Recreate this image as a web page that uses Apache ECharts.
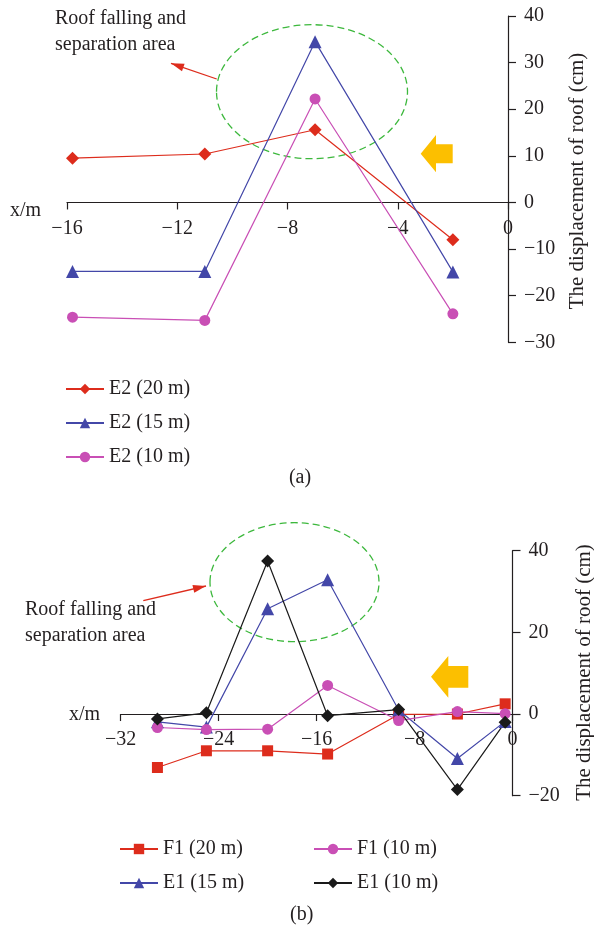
<!DOCTYPE html>
<html>
<head>
<meta charset="utf-8">
<script src="https://cdn.jsdelivr.net/npm/echarts@6/dist/echarts.min.js"></script>
<style>
html,body{margin:0;padding:0;background:#fff;}
#main{width:594px;height:926px;}
</style>
</head>
<body>
<div id="main"></div>
<script>
// ---- data (a) ----
const xTop = [-15.8, -11, -7, -2];
const e2_20 = [9.5, 10.4, 15.6, -8.0];
const e2_15 = [-14.8, -14.8, 34.5, -14.9];
const e2_10 = [-24.6, -25.3, 22.2, -23.9];
const topNames = ['E2 (20 m)', 'E2 (15 m)', 'E2 (10 m)'];
const topXTicks = [-16, -12, -8, -4, 0];
const topYTicks = [-30, -20, -10, 0, 10, 20, 30, 40];

// ---- data (b) ----
const xBot = [-29, -25, -20, -15.1, -9.3, -4.5, -0.6];
const f1_20 = [-13.1, -9.0, -9.0, -9.8, -0.1, 0.0, 2.5];
const e1_15 = [-1.9, -3.2, 25.8, 32.9, 1.0, -10.9, -1.8];
const f1_10 = [-3.3, -3.8, -3.7, 7.0, -1.6, 0.6, 0.1];
const e1_10 = [-1.2, 0.3, 37.5, -0.4, 1.1, -18.5, -2.0];
const botNames = ['F1 (20 m)', 'E1 (15 m)', 'F1 (10 m)', 'E1 (10 m)'];
const botXTicks = [-32, -24, -16, -8, 0];
const botYTicks = [-20, 0, 20, 40];

const yName = 'The displacement of roof (cm)';

const FONT = "'Liberation Serif', 'Times New Roman', serif";
const TXT = '#231F20';
const RED = '#DD2C1C', BLUE = '#4347A8', MAG = '#C94FB5', BLK = '#1A1A1A';
const GREEN = '#3DB83D', YEL = '#FCBF00';

const pair = (xs, ys) => xs.map((x, i) => [x, ys[i]]);
const minus = v => String(v).replace('-', '\u2212');

const grids = [
  {left: 67, top: 16, width: 441, height: 326.3},
  {left: 120.7, top: 550.7, width: 391.8, height: 245}
];
const yTickSets = [topYTicks, botYTicks];
// distance (px) from grid bottom up to the y = 0 line, through the y scale
function zeroOffset(gi) {
  const t = yTickSets[gi], g = grids[gi];
  const lo = t[0], hi = t[t.length - 1];
  return -((0 - lo) / (hi - lo)) * g.height;
}

function mkSeries(name, data, color, symbol, gi, size) {
  return {
    name, type: 'line', data, xAxisIndex: gi, yAxisIndex: gi,
    symbol, symbolSize: size, showSymbol: true,
    lineStyle: {color, width: 1.2},
    itemStyle: {color},
    emphasis: {disabled: true},
    animation: false
  };
}

function xAx(gi, ticks) {
  return {
    gridIndex: gi, type: 'value', position: 'bottom', offset: zeroOffset(gi),
    min: ticks[0], max: ticks[ticks.length - 1], interval: ticks[1] - ticks[0],
    axisLine: {onZero: false, lineStyle: {color: TXT, width: 1.2}},
    axisTick: {show: true, length: 7, lineStyle: {color: TXT, width: 1.2}},
    axisLabel: {margin: 16, color: TXT, fontFamily: FONT, fontSize: 20, formatter: minus},
    splitLine: {show: false}
  };
}
function yAx(gi, ticks) {
  return {
    gridIndex: gi, type: 'value', position: 'right',
    min: ticks[0], max: ticks[ticks.length - 1], interval: ticks[1] - ticks[0],
    axisLine: {show: true, onZero: false, lineStyle: {color: TXT, width: 1.2}},
    axisTick: {show: true, length: 8, lineStyle: {color: TXT, width: 1.2}},
    axisLabel: {margin: 16, color: TXT, fontFamily: FONT, fontSize: 20, formatter: minus},
    splitLine: {show: false}
  };
}

function legendOf(names, left, top) {
  return {
    data: names, orient: 'vertical', left, top,
    itemWidth: 38, itemHeight: 13, itemGap: 14,
    textStyle: {fontFamily: FONT, fontSize: 20, color: TXT},
    selectedMode: false
  };
}

function arrowHead(x1, y1, x2, y2, len, wid) {
  const a = Math.atan2(y2 - y1, x2 - x1);
  const bx = x2 - len * Math.cos(a), by = y2 - len * Math.sin(a);
  const px = -Math.sin(a) * wid / 2, py = Math.cos(a) * wid / 2;
  return [[x2, y2], [bx + px, by + py], [bx - px, by - py]];
}

function redArrow(x1, y1, x2, y2) {
  return [
    {type: 'line', shape: {x1, y1, x2, y2}, style: {stroke: RED, lineWidth: 1.3}, silent: true},
    {type: 'polygon', shape: {points: arrowHead(x1, y1, x2, y2, 13, 8)}, style: {fill: RED}, silent: true}
  ];
}
function yellowArrow(xl, yt, xr, yb, headX, shT, shB) {
  const ym = (yt + yb) / 2;
  return {type: 'polygon', silent: true,
    shape: {points: [[xl, ym], [headX, yt], [headX, shT], [xr, shT], [xr, shB], [headX, shB], [headX, yb]]},
    style: {fill: YEL}};
}
function txt(x, y, text, opt, size) {
  return {type: 'text', x, y, silent: true,
    style: Object.assign({text, font: (size || 20) + 'px ' + FONT, fill: TXT, textAlign: 'left', textVerticalAlign: 'middle'}, opt || {})};
}
function vtxt(x, y, text) {
  const t = txt(x, y, text, {textAlign: 'center'}, 21);
  t.rotation = Math.PI / 2;
  return t;
}

const chart = echarts.init(document.getElementById('main'), null, {renderer: 'canvas'});
chart.setOption({
  backgroundColor: '#fff',
  animation: false,
  grid: grids,
  xAxis: [xAx(0, topXTicks), xAx(1, botXTicks)],
  yAxis: [yAx(0, topYTicks), yAx(1, botYTicks)],
  legend: [
    legendOf(topNames, 60, 374),
    legendOf(botNames.slice(0, 2), 114, 834),
    legendOf(botNames.slice(2), 308, 834)
  ],
  series: [
    mkSeries(topNames[0], pair(xTop, e2_20), RED, 'diamond', 0, 13),
    mkSeries(topNames[1], pair(xTop, e2_15), BLUE, 'triangle', 0, 13),
    mkSeries(topNames[2], pair(xTop, e2_10), MAG, 'circle', 0, 11),
    mkSeries(botNames[0], pair(xBot, f1_20), RED, 'rect', 1, 11),
    mkSeries(botNames[1], pair(xBot, e1_15), BLUE, 'triangle', 1, 13),
    mkSeries(botNames[2], pair(xBot, f1_10), MAG, 'circle', 1, 11),
    mkSeries(botNames[3], pair(xBot, e1_10), BLK, 'diamond', 1, 13)
  ],
  graphic: [
    // (a) annotations
    {type: 'ellipse', silent: true, shape: {cx: 312, cy: 91.7, rx: 95.5, ry: 67},
      style: {fill: 'none', stroke: GREEN, lineWidth: 1.3, lineDash: [7, 4]}},
    ...redArrow(216.7, 79, 171, 63.3),
    txt(55, 18.5, 'Roof falling and'),
    txt(55, 44.5, 'separation area'),
    yellowArrow(420.7, 135, 452.7, 172.3, 436, 144.3, 163.3),
    txt(10, 211, 'x/m'),
    vtxt(577, 181, yName),
    txt(300, 478, '(a)', {textAlign: 'center'}),
    // (b) annotations
    {type: 'ellipse', silent: true, shape: {cx: 294.5, cy: 582.2, rx: 84.5, ry: 59.5},
      style: {fill: 'none', stroke: GREEN, lineWidth: 1.3, lineDash: [7, 4]}},
    ...redArrow(143.3, 600.7, 206, 586),
    txt(25, 609.3, 'Roof falling and'),
    txt(25, 636, 'separation area'),
    yellowArrow(431, 656, 468.3, 697.7, 448.3, 666, 687.7),
    txt(69, 715, 'x/m'),
    vtxt(584, 672.5, yName),
    txt(301.7, 915, '(b)', {textAlign: 'center'})
  ]
});
</script>
</body>
</html>
